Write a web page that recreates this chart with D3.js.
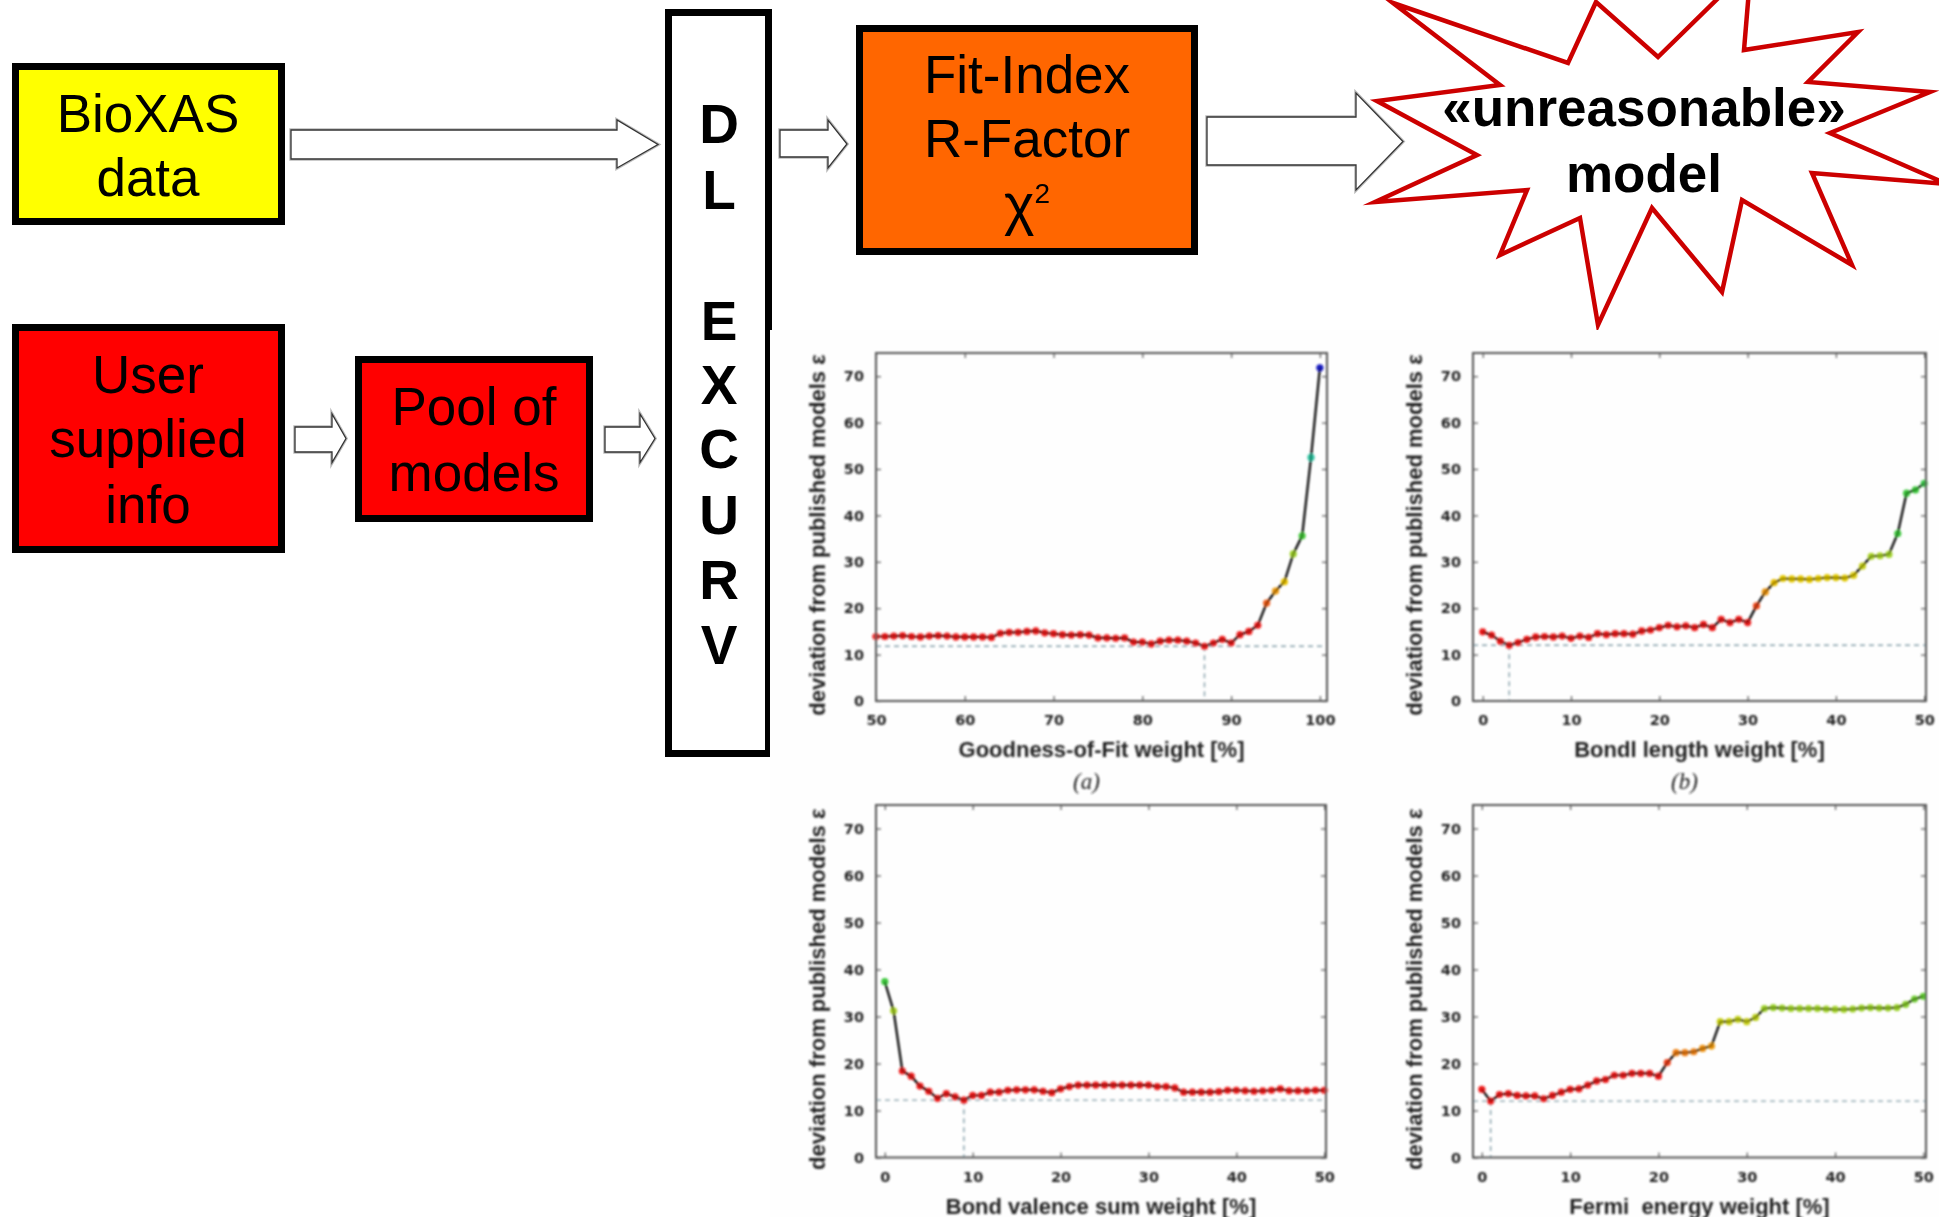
<!DOCTYPE html>
<html>
<head>
<meta charset="utf-8">
<script src="https://cdn.jsdelivr.net/npm/d3@7"></script>
<style>
  html, body { margin: 0; padding: 0; background: #ffffff; }
  svg { display: block; }
</style>
</head>
<body>
<svg id="fig" width="1939" height="1217"></svg>
<script>
// ---------------------------------------------------------------
// Weight sweeps: deviation of the refined model from published models
// ---------------------------------------------------------------
const gofWeight = [50,51,52,53,54,55,56,57,58,59,60,61,62,63,64,65,66,67,68,69,70,71,72,73,74,75,76,77,78,79,80,81,82,83,84,85,86,87,88,89,90,91,92,93,94,95,96,97,98,99,100];
const gofDeviation = [13.9,13.9,14.0,14.1,13.9,13.8,14.0,14.1,14.0,13.8,13.8,13.8,13.8,13.7,14.6,14.8,14.8,15.0,15.1,14.7,14.5,14.3,14.2,14.3,14.2,13.6,13.6,13.5,13.6,12.7,12.7,12.3,12.9,13.1,13.1,12.9,12.5,11.8,12.5,13.3,12.5,14.3,15.0,16.3,21.1,23.7,25.7,31.7,35.6,52.5,71.8];

const pctWeight = [0,1,2,3,4,5,6,7,8,9,10,11,12,13,14,15,16,17,18,19,20,21,22,23,24,25,26,27,28,29,30,31,32,33,34,35,36,37,38,39,40,41,42,43,44,45,46,47,48,49,50];
const bondLengthDeviation = [14.9,14.2,12.9,12.0,12.6,13.3,13.8,13.9,13.8,14.0,13.5,14.0,13.7,14.5,14.3,14.5,14.5,14.4,15.1,15.3,15.8,16.3,16.0,16.2,15.8,16.5,15.8,17.6,16.9,17.6,16.9,20.5,23.5,25.5,26.4,26.3,26.3,26.2,26.4,26.6,26.6,26.5,27.1,29.1,31.2,31.3,31.6,36.1,44.8,45.5,46.9];
const bondValenceDeviation = [37.4,31.2,18.4,17.3,15.2,14.1,12.6,13.6,12.9,12.2,13.2,13.2,13.9,13.9,14.3,14.4,14.4,14.4,14.1,13.8,14.6,15.1,15.4,15.4,15.4,15.4,15.4,15.4,15.4,15.4,15.4,15.1,15.1,14.8,13.9,13.9,13.9,13.9,14.0,14.3,14.3,14.2,14.1,14.2,14.3,14.6,14.2,14.2,14.2,14.3,14.3];
const fermiDeviation = [14.5,12.0,13.4,13.6,13.2,13.1,13.1,12.5,13.2,13.9,14.5,14.6,15.4,16.3,16.6,17.5,17.5,17.9,17.9,17.9,17.3,20.2,22.3,22.3,22.5,23.2,23.7,28.9,28.9,29.4,28.9,29.8,31.7,31.9,31.8,31.7,31.7,31.7,31.7,31.6,31.5,31.5,31.6,31.8,31.9,31.8,31.8,31.9,32.6,33.7,34.3];

const gofTicks = [50,60,70,80,90,100];
const pctTicks = [0,10,20,30,40,50];
const deviationTicks = [0,10,20,30,40,50,60,70];

const yTitle = "deviation from published models \u03b5";
const xTitles = ["Goodness-of-Fit weight [%]", "Bondl length weight [%]", "Bond valence sum weight [%]", "Fermi  energy weight [%]"];
const panelTags = ["(a)", "(b)", "", ""];

// Flow-chart labels
const bioxasLines = ["BioXAS", "data"];
const userLines = ["User", "supplied", "info"];
const poolLines = ["Pool of", "models"];
const programLetters = ["D", "L", "E", "X", "C", "U", "R", "V"];
const indexLines = ["Fit-Index", "R-Factor"];
const verdictLines = ["\u00abunreasonable\u00bb", "model"];

// ---------------------------------------------------------------
const svg = d3.select("#fig");
svg.append("rect").attr("width", 1939).attr("height", 1217).attr("fill", "#ffffff");

const defs = svg.append("defs");
defs.append("filter").attr("id", "soft")
  .attr("x", "-5%").attr("y", "-5%").attr("width", "110%").attr("height", "110%")
  .append("feGaussianBlur").attr("stdDeviation", 0.85);
defs.append("filter").attr("id", "softer")
  .attr("x", "-5%").attr("y", "-5%").attr("width", "110%").attr("height", "110%")
  .append("feGaussianBlur").attr("stdDeviation", 0.4);

const SANS = "'Liberation Sans', Arial, Helvetica, sans-serif";

// --- flow chart ---------------------------------------------------
const flow = svg.append("g").attr("class", "flow").attr("filter", "url(#softer)");

function frame(x0, y0, x1, y1, fill, sw) {
  flow.append("rect")
    .attr("x", x0 + sw / 2).attr("y", y0 + sw / 2)
    .attr("width", x1 - x0 - sw).attr("height", y1 - y0 - sw)
    .attr("fill", fill).attr("stroke", "#000").attr("stroke-width", sw);
}

function lines(arr, cx, baselines, size, weight) {
  arr.forEach((t, i) => {
    flow.append("text")
      .attr("x", cx).attr("y", baselines[i])
      .attr("text-anchor", "middle")
      .attr("font-family", SANS).attr("font-size", size)
      .attr("font-weight", weight || "normal")
      .attr("fill", "#000")
      .text(t);
  });
}

function blockArrow(x0, hx, x1, sT, sB, hT, hB, tipY) {
  const pts = [[x0, sT], [hx, sT], [hx, hT], [x1, tipY], [hx, hB], [hx, sB], [x0, sB]];
  flow.append("polygon")
    .attr("points", pts.map(p => p.join(",")).join(" "))
    .attr("fill", "none").attr("stroke", "#bbbbbb").attr("stroke-width", 3.5)
    .attr("stroke-linejoin", "miter");
  flow.append("polygon")
    .attr("points", pts.map(p => p.join(",")).join(" "))
    .attr("fill", "#ffffff").attr("stroke", "#333").attr("stroke-width", 1.3)
    .attr("stroke-linejoin", "miter");
}

// input boxes
frame(12, 63, 285, 225, "#ffff00", 7);
lines(bioxasLines, 148, [132, 196], 53);

frame(12, 324, 285, 553, "#ff0000", 7);
lines(userLines, 148, [393, 457, 523], 53);

frame(355, 356, 593, 522, "#ff0000", 7);
lines(poolLines, 474, [425, 491], 53);

// program column
frame(665, 9, 772, 757, "#ffffff", 7);
const letterBase = [143, 209, 340, 404, 468, 534, 599, 664];
programLetters.forEach((t, i) => {
  flow.append("text")
    .attr("x", 719).attr("y", letterBase[i])
    .attr("text-anchor", "middle")
    .attr("font-family", SANS).attr("font-size", 55).attr("font-weight", "bold")
    .text(t);
});

// fit index box
frame(856, 25, 1198, 255, "#ff6600", 7);
lines(indexLines, 1027, [93, 157], 53);
const chi = flow.append("text")
  .attr("x", 1027).attr("y", 224)
  .attr("text-anchor", "middle")
  .attr("font-family", SANS).attr("font-size", 58);
chi.append("tspan").text("\u03c7");
chi.append("tspan").attr("font-size", 28).attr("dy", -21).text("2");

// starburst
const starPts = [
  [1393, 3], [1568, 63], [1596, 2], [1658, 57], [1751, -34], [1744, 50],
  [1858, 32], [1808, 82], [1930, 92], [1830, 133], [1947, 184], [1812, 173],
  [1852, 265], [1742, 200], [1722, 292], [1652, 208], [1598, 325], [1580, 218],
  [1500, 255], [1527, 190], [1375, 202], [1477, 155], [1377, 101], [1500, 85]
];
flow.append("polygon")
  .attr("points", starPts.map(p => p.join(",")).join(" "))
  .attr("fill", "#ffffff").attr("stroke", "#cc0000").attr("stroke-width", 4.5)
  .attr("stroke-linejoin", "miter").attr("stroke-miterlimit", 20);
lines(verdictLines, 1644, [126, 192], 53, "bold");

// arrows
blockArrow(291, 617, 658, 130, 159, 120, 168, 144.5);
blockArrow(295, 332, 346, 427, 452, 414, 462.5, 438.5);
blockArrow(605, 640, 655, 427, 452, 414, 462.5, 438.5);
blockArrow(780, 828, 847, 130, 157, 120, 168, 144);
blockArrow(1207, 1356, 1403, 117, 165, 93, 190, 141.5);

// --- result panels ------------------------------------------------
svg.append("rect").attr("x", 770).attr("y", 330).attr("width", 1169).attr("height", 887)
  .attr("fill", "#fefefe");

const deviationDomain = [0, 75];
const markerColor = d3.scaleLinear()
  .domain([19, 22, 26, 31, 36, 46, 52, 72])
  .range(["#ee1c1c", "#f07818", "#e8c800", "#b0d428", "#3cc83c", "#3cc83c", "#30c8a0", "#1818c0"])
  .clamp(true);

const panels = [
  { xs: gofWeight, ys: gofDeviation, xDomain: [50, 100.8], xTicks: gofTicks, l: 876, r: 1327, t: 353, b: 701 },
  { xs: pctWeight, ys: bondLengthDeviation, xDomain: [-1.1, 50.2], xTicks: pctTicks, l: 1473, r: 1926, t: 353, b: 701 },
  { xs: pctWeight, ys: bondValenceDeviation, xDomain: [-1, 50.2], xTicks: pctTicks, l: 876, r: 1326, t: 805, b: 1157.5 },
  { xs: pctWeight, ys: fermiDeviation, xDomain: [-1, 50.3], xTicks: pctTicks, l: 1473, r: 1926, t: 805, b: 1157.5 }
];

function styleAxis(sel) {
  sel.select(".domain").remove();
  sel.selectAll(".tick line").attr("stroke", "#555").attr("stroke-width", 1.2);
  sel.selectAll(".tick text")
    .attr("font-family", "'DejaVu Sans', Verdana, sans-serif")
    .attr("font-size", 14.5).attr("font-weight", "bold").attr("fill", "#222");
}

panels.forEach((p, i) => {
  const g = svg.append("g").attr("class", "panel").attr("filter", "url(#soft)");
  const x = d3.scaleLinear().domain(p.xDomain).range([p.l, p.r]);
  const y = d3.scaleLinear().domain(deviationDomain).range([p.b, p.t]);

  // inward ticks on all four sides
  g.append("g").attr("transform", `translate(0,${p.b})`)
    .call(d3.axisBottom(x).tickValues(p.xTicks).tickSizeInner(-5).tickSizeOuter(0).tickPadding(14))
    .call(styleAxis);
  g.append("g").attr("transform", `translate(0,${p.t})`)
    .call(d3.axisTop(x).tickValues(p.xTicks).tickSizeInner(-5).tickSizeOuter(0).tickFormat(""))
    .call(styleAxis);
  g.append("g").attr("transform", `translate(${p.l},0)`)
    .call(d3.axisLeft(y).tickValues(deviationTicks).tickSizeInner(-5).tickSizeOuter(0).tickPadding(12))
    .call(styleAxis);
  g.append("g").attr("transform", `translate(${p.r},0)`)
    .call(d3.axisRight(y).tickValues(deviationTicks).tickSizeInner(-5).tickSizeOuter(0).tickFormat(""))
    .call(styleAxis);

  // best-weight guide lines
  const minV = d3.min(p.ys);
  const minX = p.xs[p.ys.indexOf(minV)];
  g.append("line")
    .attr("x1", p.l).attr("x2", p.r).attr("y1", y(minV)).attr("y2", y(minV))
    .attr("stroke", "#86a0aa").attr("stroke-width", 1.4).attr("stroke-dasharray", "5,4");
  g.append("line")
    .attr("x1", x(minX)).attr("x2", x(minX)).attr("y1", y(minV)).attr("y2", p.b)
    .attr("stroke", "#86a0aa").attr("stroke-width", 1.4).attr("stroke-dasharray", "5,4");

  const pts = p.xs.map((v, k) => [v, p.ys[k]]);
  const curve = d3.line().x(d => x(d[0])).y(d => y(d[1]));
  g.append("path").datum(pts)
    .attr("d", curve)
    .attr("fill", "none").attr("stroke", "#000").attr("stroke-width", 2.2);
  g.append("g").selectAll("circle").data(pts).join("circle")
    .attr("cx", d => x(d[0])).attr("cy", d => y(d[1])).attr("r", 3.6)
    .attr("fill", d => markerColor(d[1]));
  g.append("path").datum(pts)
    .attr("d", curve)
    .attr("fill", "none").attr("stroke", "#000").attr("stroke-width", 1.1).attr("stroke-opacity", 0.75);

  // frame
  g.append("rect")
    .attr("x", p.l).attr("y", p.t).attr("width", p.r - p.l).attr("height", p.b - p.t)
    .attr("fill", "none").attr("stroke", "#555").attr("stroke-width", 2);

  // titles
  const cy = (p.t + p.b) / 2 + 8;
  g.append("text")
    .attr("transform", `translate(${p.l - 51},${cy}) rotate(-90)`)
    .attr("text-anchor", "middle")
    .attr("font-family", SANS).attr("font-size", 22).attr("font-weight", "bold").attr("fill", "#222")
    .text(yTitle);
  g.append("text")
    .attr("x", (p.l + p.r) / 2).attr("y", p.b + 56)
    .attr("text-anchor", "middle").style("white-space", "pre")
    .attr("font-family", SANS).attr("font-size", 22).attr("font-weight", "bold").attr("fill", "#222")
    .text(xTitles[i]);
  if (panelTags[i]) {
    g.append("text")
      .attr("x", (p.l + p.r) / 2 - 15).attr("y", p.b + 88)
      .attr("text-anchor", "middle")
      .attr("font-family", "'Liberation Serif', 'DejaVu Serif', serif").attr("font-size", 23)
      .attr("font-style", "italic").attr("fill", "#222")
      .text(panelTags[i]);
  }
});
</script>
</body>
</html>
